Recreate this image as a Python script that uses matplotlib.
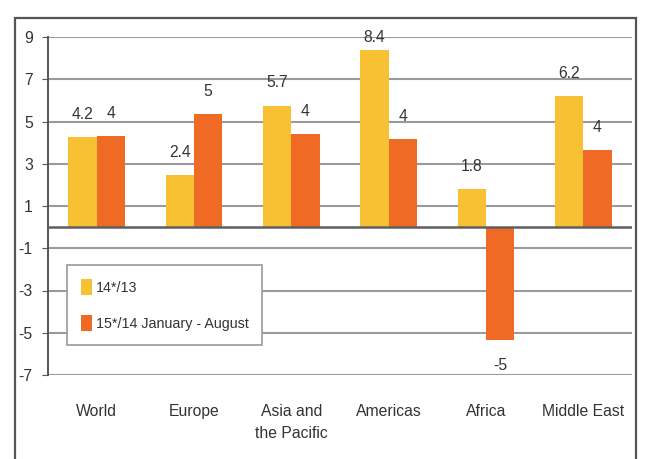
import numpy as np
import matplotlib.pyplot as plt
from matplotlib.patches import Rectangle

plt.rcParams['font.family'] = ['Liberation Sans', 'DejaVu Sans']

regions = ['World', 'Europe', 'Asia and\nthe Pacific', 'Americas', 'Africa', 'Middle East']
growth_14 = [4.25, 2.45, 5.75, 8.4, 1.8, 6.2]
growth_15 = [4.3, 5.35, 4.4, 4.15, -5.35, 3.65]
labels_14 = ['4.2', '2.4', '5.7', '8.4', '1.8', '6.2']
labels_15 = ['4', '5', '4', '4', '-5', '4']
series_names = ['14*/13', '15*/14 January - August']
yticks = [-7, -5, -3, -1, 1, 3, 5, 7, 9]

yellow = '#F8C133'
orange = '#EF6B25'
txt = '#333333'
fs = 11.3

fig = plt.figure(figsize=(6.54, 4.59), dpi=100)
ax = fig.add_axes([48 / 654, 1 - 375 / 459, 584 / 654, 338 / 459])

# outer frame of the chart
fig.patches.append(Rectangle((15 / 654, -0.05), 621 / 654, 1.05 - 18 / 459,
                             transform=fig.transFigure, fill=False,
                             edgecolor='#555555', lw=1.6))

x = np.arange(len(regions))
w = 0.29
b1 = ax.bar(x - w / 2, growth_14, w, color=yellow, label=series_names[0], zorder=3)
b2 = ax.bar(x + w / 2, growth_15, w, color=orange, label=series_names[1], zorder=3)

# value labels sit about one unit off the bar end, but never above the top gridline
for bars, labs in [(b1, labels_14), (b2, labels_15)]:
    for bar, lab in zip(bars, labs):
        h = bar.get_height()
        ypos = min(h + 1.08, 9) if h >= 0 else h - 1.2
        ax.text(bar.get_x() + bar.get_width() / 2, ypos, lab,
                ha='center', va='center', fontsize=fs, color=txt, zorder=5)

ax.set_ylim(-7, 9)
ax.set_xlim(-0.5, len(regions) - 0.5)
ax.set_yticks(yticks)
ax.set_yticklabels([str(t) for t in yticks], fontsize=fs, color=txt)
ax.set_xticks(x)
ax.set_xticklabels(regions, fontsize=fs, color=txt, va='top', linespacing=1.55)
ax.tick_params(axis='x', length=0, pad=21)
ax.tick_params(axis='y', length=4, pad=7, color='#555555')

for t in yticks:
    ax.axhline(t, color='#9a9a9a', lw=1.5, zorder=1)
ax.axhline(0, color='#5f5f5f', lw=1.8, zorder=4)

for s in ['top', 'right', 'bottom']:
    ax.spines[s].set_visible(False)
ax.spines['left'].set_color('#555555')
ax.spines['left'].set_linewidth(1.4)

leg = ax.legend(loc='lower left', bbox_to_anchor=(0.033, 0.089), borderaxespad=0,
                fontsize=10.3, handlelength=0.75, handleheight=1.4, labelspacing=1.35,
                handletextpad=0.3, borderpad=0.95, fancybox=False, framealpha=1,
                edgecolor='#999999')
for t in leg.get_texts():
    t.set_color(txt)
leg.get_frame().set_linewidth(1.2)

fig.savefig('out.png', dpi=100)
